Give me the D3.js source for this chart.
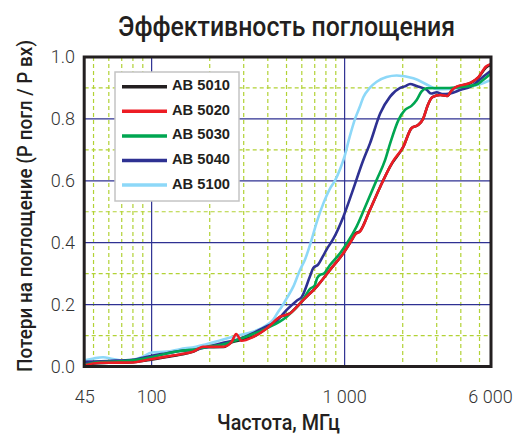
<!DOCTYPE html>
<html><head><meta charset="utf-8">
<script src="https://cdn.jsdelivr.net/npm/d3@7/dist/d3.min.js"></script>
<style>
html,body{margin:0;padding:0;background:#fff;}
svg{display:block;}
</style></head>
<body><svg id="chart" width="517" height="443"></svg>
<script>
const title = "Эффективность поглощения";
const xTitle = "Частота, МГц";
const yTitle = "Потери на поглощение (P погл / P вх)";
const xTickValues = [45, 100, 1000, 5700];
const xTickLabels = ["45", "100", "1 000", "6 000"];
const yTickValues = [0, 0.2, 0.4, 0.6, 0.8, 1.0];
const majorX = [100, 1000];
const minorX = [50,60,70,80,90,200,300,400,500,600,700,800,900,2000,3000,4000,5000];
const majorY = [0.2, 0.4, 0.6, 0.8];
const minorY = [0.1, 0.3, 0.5, 0.7, 0.9];
const seriesNames = ["AB 5010", "AB 5020", "AB 5030", "AB 5040", "AB 5100"];
const seriesColors = ["#231f20", "#ed1c24", "#00a651", "#2e3192", "#8dd8f8"];

const ab5010 = [[45,0.003],[50,0.01],[60,0.012],[80,0.014],[95,0.02],[120,0.031],[140,0.038],[165,0.048],[185,0.062],[236,0.063],[260,0.078],[292,0.086],[337,0.097],[395,0.124],[464,0.16],[523,0.173],[587,0.203],[611,0.215],[717,0.258],[840,0.312],[985,0.366],[1090,0.409],[1140,0.43],[1200,0.437],[1352,0.506],[1530,0.581],[1720,0.646],[2015,0.71],[2220,0.77],[2400,0.78],[2550,0.80],[2700,0.845],[2850,0.87],[3130,0.877],[3400,0.874],[3600,0.893],[3800,0.903],[4500,0.916],[4950,0.935],[5400,0.966],[5700,0.975]];
const ab5020 = [[45,0.002],[46,0.005],[54,0.012],[80,0.013],[94,0.021],[119,0.032],[140,0.039],[164,0.048],[185,0.064],[236,0.064],[260,0.08],[274,0.105],[292,0.083],[337,0.096],[395,0.123],[464,0.161],[523,0.172],[587,0.204],[611,0.215],[717,0.258],[840,0.312],[985,0.366],[1090,0.409],[1140,0.428],[1200,0.436],[1352,0.506],[1530,0.581],[1720,0.646],[1790,0.665],[2015,0.71],[2220,0.77],[2400,0.78],[2550,0.80],[2700,0.845],[2850,0.87],[3130,0.877],[3400,0.874],[3600,0.894],[3800,0.904],[4500,0.917],[4950,0.936],[5400,0.969],[5700,0.977]];
const ab5030 = [[45,0.005],[50,0.012],[60,0.015],[80,0.02],[100,0.03],[120,0.042],[140,0.05],[170,0.056],[200,0.065],[230,0.07],[290,0.09],[335,0.105],[400,0.125],[501,0.161],[611,0.218],[660,0.25],[700,0.262],[720,0.285],[745,0.296],[780,0.3],[840,0.328],[947,0.366],[1040,0.403],[1153,0.452],[1300,0.527],[1466,0.603],[1620,0.667],[1720,0.72],[1900,0.796],[2055,0.829],[2220,0.842],[2362,0.861],[2500,0.888],[2660,0.899],[3000,0.9],[3500,0.9],[4150,0.904],[4800,0.91],[5200,0.925],[5700,0.945]];
const ab5040 = [[45,0.015],[60,0.018],[80,0.022],[100,0.035],[120,0.043],[140,0.05],[170,0.055],[200,0.065],[230,0.075],[287,0.09],[335,0.108],[395,0.13],[440,0.145],[501,0.183],[563,0.212],[600,0.225],[660,0.29],[688,0.318],[730,0.33],[770,0.355],[810,0.38],[873,0.412],[985,0.484],[1090,0.56],[1250,0.667],[1352,0.72],[1530,0.818],[1720,0.872],[1940,0.9],[2050,0.905],[2183,0.913],[2362,0.906],[2660,0.894],[2800,0.882],[3000,0.886],[3200,0.88],[3520,0.882],[4000,0.894],[4500,0.904],[5220,0.936],[5700,0.955]];
const ab5100 = [[45,0.02],[50,0.026],[56,0.03],[63,0.024],[71,0.019],[80,0.022],[90,0.032],[100,0.045],[120,0.048],[140,0.056],[170,0.064],[200,0.075],[230,0.086],[287,0.102],[335,0.112],[395,0.134],[427,0.152],[453,0.177],[472,0.193],[501,0.22],[542,0.258],[587,0.312],[622,0.344],[667,0.40],[720,0.47],[776,0.527],[840,0.575],[890,0.60],[950,0.64],[1000,0.68],[1060,0.74],[1132,0.80],[1200,0.84],[1250,0.87],[1350,0.90],[1466,0.92],[1650,0.935],[1862,0.94],[2270,0.931],[2768,0.906],[3000,0.896],[3500,0.897],[4000,0.90],[4500,0.905],[5000,0.912],[5700,0.925]];
const seriesData = [ab5010, ab5020, ab5030, ab5040, ab5100];
const drawOrder = [0, 4, 3, 2, 1];

const svg = d3.select("#chart");
const L = 84.7, R = 490.5, T = 57, B = 366.5;
const x = d3.scaleLog().domain([45, 5700]).range([L, R]);
const y = d3.scaleLinear().domain([0, 1]).range([B, T]);

// grid
const g = svg.append("g");
g.selectAll(".mnx").data(minorX).enter().append("line")
  .attr("x1", d => x(d)).attr("x2", d => x(d)).attr("y1", T).attr("y2", B)
  .attr("stroke", "#b2d235").attr("stroke-width", 1.2).attr("stroke-dasharray", "4,3");
g.selectAll(".mny").data(minorY).enter().append("line")
  .attr("x1", L).attr("x2", R).attr("y1", d => y(d)).attr("y2", d => y(d))
  .attr("stroke", "#b2d235").attr("stroke-width", 1.2).attr("stroke-dasharray", "4,3");
g.selectAll(".mjx").data(majorX).enter().append("line")
  .attr("x1", d => x(d)).attr("x2", d => x(d)).attr("y1", T).attr("y2", B)
  .attr("stroke", "#2e3192").attr("stroke-width", 1.2);
g.selectAll(".mjy").data(majorY).enter().append("line")
  .attr("x1", L).attr("x2", R).attr("y1", d => y(d)).attr("y2", d => y(d))
  .attr("stroke", "#2e3192").attr("stroke-width", 1.2);

// lines
const line = d3.line().x(d => x(d[0])).y(d => y(d[1])).curve(d3.curveMonotoneX);
svg.append("defs").append("clipPath").attr("id", "clip")
  .append("rect").attr("x", L).attr("y", T - 2).attr("width", R - L).attr("height", B - T + 2);
const lg = svg.append("g").attr("clip-path", "url(#clip)");
drawOrder.forEach(i => {
  lg.append("path").datum(seriesData[i]).attr("d", line)
    .attr("fill", "none").attr("stroke", seriesColors[i]).attr("stroke-width", 2.6)
    .attr("stroke-linejoin", "round");
});

// frame
svg.append("rect").attr("x", L - 0.5).attr("y", T).attr("width", R - L + 1).attr("height", B - T)
  .attr("fill", "none").attr("stroke", "#231f20").attr("stroke-width", 3);

// legend
const leg = svg.append("g");
leg.append("rect").attr("x", 115).attr("y", 72).attr("width", 124).attr("height", 129)
  .attr("fill", "#fff").attr("stroke", "#c4c4c4").attr("stroke-width", 1.5);
seriesNames.forEach((n, i) => {
  const yy = 86.7 + i * 24.6;
  leg.append("line").attr("x1", 122).attr("x2", 167).attr("y1", yy).attr("y2", yy)
    .attr("stroke", seriesColors[i]).attr("stroke-width", 3.5);
  leg.append("text").attr("x", 172).attr("y", yy + 3.5).text(n)
    .attr("font-family", "Liberation Sans, Arial, sans-serif").attr("font-weight", "bold")
    .attr("font-size", 14).attr("fill", "#231f20")
    .attr("textLength", 58).attr("lengthAdjust", "spacingAndGlyphs");
});

// axis tick labels
const tickFont = "Roboto, 'Liberation Sans', sans-serif";
svg.selectAll(".xt").data(xTickValues).enter().append("text")
  .attr("x", d => x(d)).attr("y", 403).attr("text-anchor", "middle")
  .attr("font-family", tickFont).attr("font-weight", 300).attr("font-size", 18).attr("fill", "#333")
  .text((d, i) => xTickLabels[i]);
svg.selectAll(".yt").data(yTickValues).enter().append("text")
  .attr("x", 75).attr("y", d => y(d)).attr("dy", "0.35em").attr("text-anchor", "end")
  .attr("font-family", tickFont).attr("font-weight", 300).attr("font-size", 18).attr("fill", "#333")
  .text(d => d.toFixed(1));

// titles
const titleFont = "Roboto, 'Liberation Sans', sans-serif";
svg.append("text").attr("x", 118).attr("y", 35.5).text(title)
  .attr("font-family", titleFont).attr("font-weight", 500).attr("font-size", 28).attr("fill", "#231f20")
  .attr("textLength", 337).attr("lengthAdjust", "spacingAndGlyphs");
svg.append("text").attr("x", 217).attr("y", 429.5).text(xTitle)
  .attr("font-family", titleFont).attr("font-weight", 500).attr("font-size", 22.5).attr("fill", "#231f20")
  .attr("textLength", 123).attr("lengthAdjust", "spacingAndGlyphs");
svg.append("text").attr("transform", "translate(31.5,372) rotate(-90)").text(yTitle)
  .attr("font-family", titleFont).attr("font-weight", 500).attr("font-size", 20).attr("fill", "#231f20")
  .attr("textLength", 332).attr("lengthAdjust", "spacingAndGlyphs");
</script></body></html>
